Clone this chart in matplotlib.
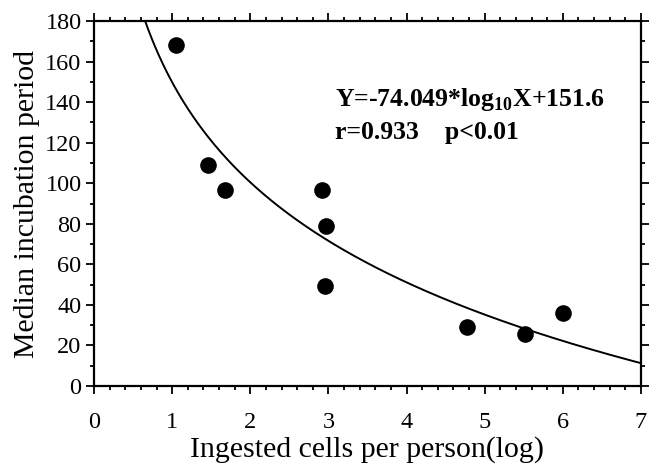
import numpy as np
import matplotlib
matplotlib.use("Agg")
import matplotlib.pyplot as plt
from matplotlib.ticker import MultipleLocator

x_vals = [1.05, 1.46, 1.68, 2.92, 2.97, 2.96, 4.77, 5.52, 6.0]
y_vals = [168, 109, 96.5, 96.5, 79, 49.5, 29, 25.5, 36]
# fitted curve as drawn in the reference (y = a - b*ln(x))
curve_a = 149.8
curve_b = 71.2

plt.rcParams['font.family'] = ['Liberation Serif', 'DejaVu Serif']

fig = plt.figure(figsize=(6.49, 4.66), dpi=100)
ax = fig.add_axes([94/649, 1-386/466, 547/649, 365/466])

xc = np.linspace(np.exp((curve_a - 180) / curve_b), 7, 300)
yc = curve_a - curve_b * np.log(xc)
ax.plot(xc, yc, color='black', lw=1.4, zorder=2)
ax.scatter(x_vals, y_vals, s=120, color='black', zorder=3)

ax.set_xlim(0, 7)
ax.set_ylim(0, 180)
ax.xaxis.set_major_locator(MultipleLocator(1))
ax.xaxis.set_minor_locator(MultipleLocator(0.2))
ax.yaxis.set_major_locator(MultipleLocator(20))
ax.yaxis.set_minor_locator(MultipleLocator(10))
ax.tick_params(which='both', direction='out', top=True, right=True,
               labeltop=False, labelright=False, width=1.3)
ax.tick_params(which='major', length=6, labelsize=17.5)
ax.tick_params(which='minor', length=3)
ax.tick_params(axis='x', which='major', pad=13)
ax.tick_params(axis='y', which='major', pad=3)
for s in ax.spines.values():
    s.set_linewidth(1.6)

ax.set_xlabel('Ingested cells per person(log)', fontsize=21.5, labelpad=2)
ax.set_ylabel('Median incubation period', fontsize=21.5, labelpad=4)

ax.text(0.44, 0.785, r'Y=-74.049*log$_{\mathregular{10}}$X+151.6', transform=ax.transAxes,
        fontsize=18.5, fontweight='bold', ha='left', va='center')
ax.text(0.44, 0.695, 'r=0.933    p<0.01', transform=ax.transAxes,
        fontsize=18.5, fontweight='bold', ha='left', va='center')

fig.savefig('out.png', dpi=100)
